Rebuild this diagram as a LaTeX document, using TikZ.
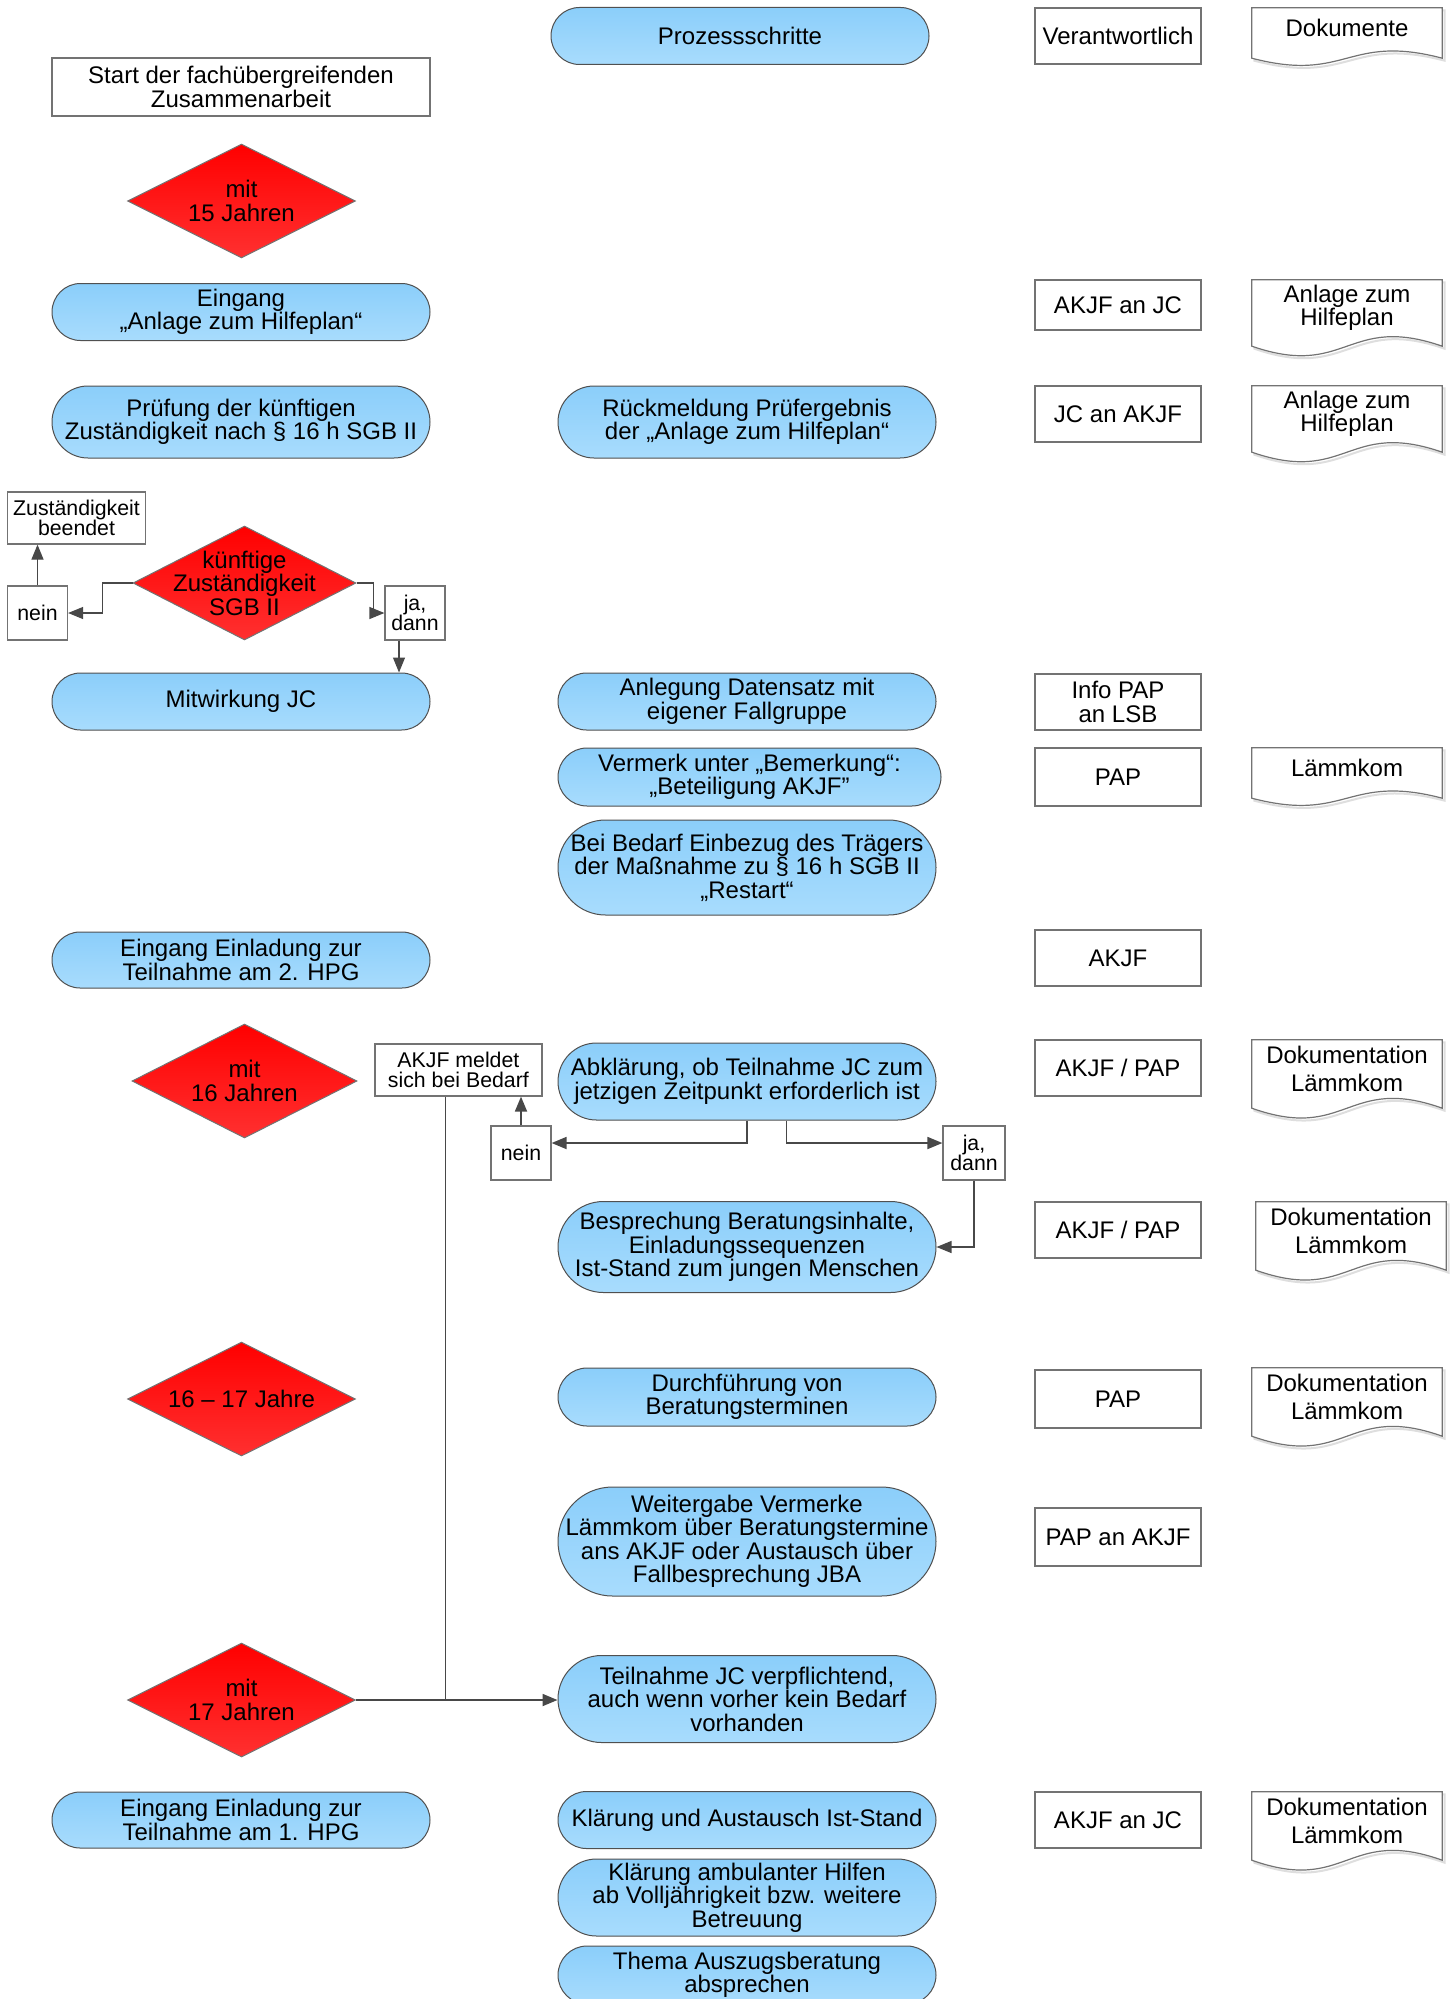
\documentclass[tikz,border=0pt]{standalone}
\usepackage{fontspec}
\setmainfont{Liberation Sans}
\usetikzlibrary{positioning, shapes.geometric, arrows.meta, calc, backgrounds}

\definecolor{pilltop}{RGB}{139,206,250}
\definecolor{pillbot}{RGB}{168,220,253}
\definecolor{pillline}{RGB}{80,80,80}
\definecolor{boxline}{RGB}{115,115,115}
\definecolor{redtop}{RGB}{255,0,0}
\definecolor{redbot}{RGB}{255,48,48}
\definecolor{lineclr}{RGB}{72,72,72}
\definecolor{shadowclr}{RGB}{222,222,222}

\newcommand{\bigtxt}{\fontsize{24}{23.5}\selectfont}
\newcommand{\smalltxt}{\fontsize{21.3}{20.7}\selectfont}
% outline of a document symbol, #2 = depth of the wave
\newcommand{\docpath}[2]{(#1.north west) -- (#1.north east) -- ($(#1.south east)+(0,10)$)
    .. controls ($(#1.south)+(0,10-#2)$) and ($(#1.south)+(0,10+#2)$) .. ($(#1.south west)+(0,10)$) -- cycle}

\begin{document}
\begin{tikzpicture}
        [x=1pt, y=-1pt,
            every node/.style={align=center, font=\bigtxt, inner sep=2pt},
            pill/.style={rectangle, rounded corners=#1/2, draw=pillline, line width=1pt, top color=pilltop, bottom color=pillbot, minimum width=378pt, minimum height=#1},
            decision/.style={diamond, draw=boxline, line width=1pt, top color=redtop, bottom color=redbot, inner sep=0pt, minimum width=228pt, minimum height=114pt},
            whobox/.style={rectangle, draw=boxline, line width=1.2pt, fill=white, minimum width=166pt, minimum height=#1},
            note/.style={rectangle, draw=boxline, line width=1.2pt, fill=white, font=\smalltxt, inner sep=1pt},
            docbox/.style={rectangle, minimum width=190pt, minimum height=#1},
            docline/.style={draw=boxline, line width=1.2pt, fill=white},
            docshadow/.style={draw=shadowclr, line width=2pt},
            flow/.style={draw=lineclr, line width=1.8pt, ->},
            thinflow/.style={draw=lineclr, line width=1.2pt, ->},
            >={Triangle[length=15pt, width=12pt]}
        ]
        \useasboundingbox (0,0) rectangle (1454,1999);

        % header row
        \node[pill=57pt] (proz) at (740,36) {Prozessschritte};
        \node[whobox=56pt] (verant) at (1118,36) {Verantwortlich};
        \node[docbox=40pt] (doc0) at (1347,28) {Dokumente};

        % left column
        \node[rectangle, draw=boxline, line width=1.2pt, minimum width=378pt, minimum height=58pt] (start) at (241,87) {Start der fachübergreifenden\\Zusammenarbeit};
        \node[decision, label={center:mit\\15 Jahren}] (d15) at (241.5,201) {};
        \node[pill=57pt] (eing) at (241,312) {Eingang\\„Anlage zum Hilfeplan“};
        \node[pill=72pt] (pruef) at (241,422) {Prüfung der künftigen\\Zuständigkeit nach § 16 h SGB II};
        \node[note, minimum width=138pt, minimum height=52pt] (beendet) at (76.5,518) {Zuständigkeit\\beendet};
        \node[decision, minimum width=223pt, label={center:künftige\\Zuständigkeit\\SGB II}] (dzust) at (244.5,583) {};
        \node[note, minimum width=60pt, minimum height=54pt] (nein1) at (37.5,613) {nein};
        \node[note, minimum width=60pt, minimum height=54pt] (ja1) at (415,613) {ja,\\dann};
        \node[pill=57pt] (mitw) at (241,701.5) {Mitwirkung JC};
        \node[pill=56pt] (einl2) at (241,960) {Eingang Einladung zur\\Teilnahme am 2. HPG};
        \node[decision, minimum width=225pt, label={center:mit\\16 Jahren}] (d16) at (244.5,1081) {};
        \node[note, minimum width=167pt, minimum height=52pt] (meldet) at (458.4,1070) {AKJF meldet\\sich bei Bedarf};
        \node[decision, label={center:16 – 17 Jahre}] (d1617) at (241.5,1399) {};
        \node[decision, label={center:mit\\17 Jahren}] (d17) at (241.5,1700) {};
        \node[pill=56pt] (einl1) at (241,1820) {Eingang Einladung zur\\Teilnahme am 1. HPG};

        % middle column
        \node[pill=72pt] (rueck) at (747,422) {Rückmeldung Prüfergebnis\\der „Anlage zum Hilfeplan“};
        \node[pill=57pt] (anleg) at (747,701.5) {Anlegung Datensatz mit\\eigener Fallgruppe};
        \node[pill=58pt, minimum width=383pt] (verm) at (749.5,777) {Vermerk unter „Bemerkung“:\\„Beteiligung AKJF"};
        \node[pill=95pt] (bedarf) at (747,867.5) {Bei Bedarf Einbezug des Trägers\\der Maßnahme zu § 16 h SGB II\\„Restart“};
        \node[pill=77pt] (abkl) at (747,1081.5) {Abklärung, ob Teilnahme JC zum\\jetzigen Zeitpunkt erforderlich ist};
        \node[note, minimum width=60pt, minimum height=54pt] (nein2) at (521,1153) {nein};
        \node[note, minimum width=62pt, minimum height=54pt] (ja2) at (974,1153) {ja,\\dann};
        \node[pill=91pt] (besp) at (747,1247) {Besprechung Beratungsinhalte,\\Einladungssequenzen\\Ist-Stand zum jungen Menschen};
        \node[pill=58pt] (durch) at (747,1397) {Durchführung von\\Beratungsterminen};
        \node[pill=109pt] (weiter) at (747,1541.5) {Weitergabe Vermerke\\Lämmkom über Beratungstermine\\ans AKJF oder Austausch über\\Fallbesprechung JBA};
        \node[pill=87pt] (teiln) at (747,1699) {Teilnahme JC verpflichtend,\\auch wenn vorher kein Bedarf\\vorhanden};
        \node[pill=57pt] (klaer) at (747,1820) {Klärung und Austausch Ist-Stand};
        \node[pill=77pt] (ambul) at (747,1897.5) {Klärung ambulanter Hilfen\\ab Volljährigkeit bzw. weitere\\Betreuung};
        \node[pill=58pt] (thema) at (747,1975) {Thema Auszugsberatung\\absprechen};

        % who is responsible
        \node[whobox=50pt] (r1) at (1118,305) {AKJF an JC};
        \node[whobox=56pt] (r2) at (1118,414) {JC an AKJF};
        \node[whobox=56pt] (r3) at (1118,702) {Info PAP\\an LSB};
        \node[whobox=58pt] (r4) at (1118,777) {PAP};
        \node[whobox=56pt] (r5) at (1118,958) {AKJF};
        \node[whobox=56pt] (r6) at (1118,1068) {AKJF / PAP};
        \node[whobox=56pt] (r7) at (1118,1230) {AKJF / PAP};
        \node[whobox=58pt] (r8) at (1118,1399) {PAP};
        \node[whobox=58pt] (r9) at (1118,1537) {PAP an AKJF};
        \node[whobox=56pt] (r10) at (1118,1820) {AKJF an JC};

        % documents
        \node[docbox=56pt] (doc1) at (1347,308) {Anlage zum\\Hilfeplan};
        \node[docbox=56pt] (doc2) at (1347,414) {Anlage zum\\Hilfeplan};
        \node[docbox=40pt] (doc3) at (1347,768) {Lämmkom};
        \node[docbox=58pt] (doc4) at (1347,1069) {Dokumentation\\[5pt]Lämmkom};
        \node[docbox=58pt] (doc5) at (1351,1231) {Dokumentation\\[5pt]Lämmkom};
        \node[docbox=58pt] (doc6) at (1347,1397) {Dokumentation\\[5pt]Lämmkom};
        \node[docbox=58pt] (doc7) at (1347,1821) {Dokumentation\\[5pt]Lämmkom};

        % connectors
        \draw[thinflow] (dzust.west) -- ++(-30,0) |- (nein1.east);
        \draw[thinflow] (nein1.north) -- (nein1.north |- beendet.south);
        \draw[thinflow] (dzust.east) -- ++(17,0) |- (ja1.west);
        \coordinate (jdrop) at ([xshift=-16pt]ja1.south);
        \draw[thinflow] (jdrop) -- (jdrop |- mitw.north);
        \draw[flow] (abkl.south) |- ([yshift=10pt]nein2.east);
        \draw[flow] ([xshift=39.5pt]abkl.south) |- ([yshift=10pt]ja2.west);
        \draw[flow] (nein2.north) -- (nein2.north |- meldet.south);
        \draw[thinflow] (ja2.south) |- (besp.east);
        \coordinate (mdrop) at ([xshift=-12.7pt]meldet.south);
        \draw[draw=lineclr, line width=1pt] (mdrop) -- (mdrop |- d17.east);
        \draw[flow] (d17.east) -- (d17.east -| teiln.west);

        \begin{scope}[on background layer]
            \foreach \d/\w in {doc0/25, doc1/33, doc2/33, doc3/25, doc4/34, doc5/34, doc6/34, doc7/34}
            {
                \draw[docshadow, transform canvas={xshift=2.5pt, yshift=-2.5pt}] \docpath{\d}{\w};
                \draw[docline] \docpath{\d}{\w};
            }
        \end{scope}
    \end{tikzpicture}
\end{document}
